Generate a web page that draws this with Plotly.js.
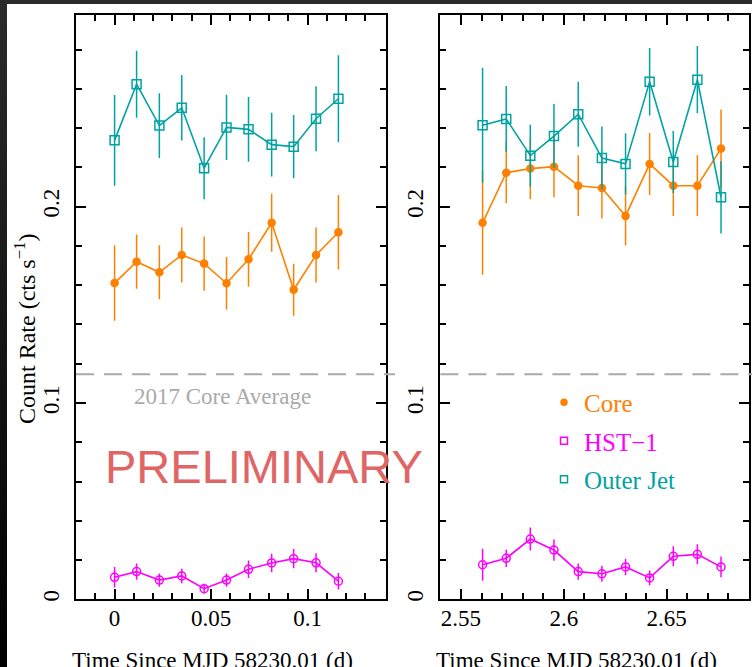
<!DOCTYPE html>
<html>
<head>
<meta charset="utf-8">
<script src="https://cdn.plot.ly/plotly-3.0.1.min.js"></script>
<style>
  html, body { margin: 0; padding: 0; background: #ffffff; }
  #chart { position: absolute; left: 0; top: 0; width: 752px; height: 667px; }
  #bandL { position: absolute; left: 0; top: 0; width: 7px; height: 667px; background: linear-gradient(#2b2b2b, #000000); z-index: 5; }
  #bandT { position: absolute; left: 0; top: 0; width: 752px; height: 4px; background: #2b2b2b; z-index: 5; }
</style>
</head>
<body>
<div id="chart"></div>
<div id="bandL"></div>
<div id="bandT"></div>
<script>
// ---- Data ----
// Left panel (first block of observations)
const time1 = [0, 0.0114, 0.0232, 0.0348, 0.0464, 0.0580, 0.0694, 0.0814, 0.0928, 0.1044, 0.1160];
const core1 = [0.1611, 0.1720, 0.1666, 0.1754, 0.1710, 0.1610, 0.1732, 0.1918, 0.1577, 0.1754, 0.1870];
const core1Err = [0.0192, 0.0138, 0.0137, 0.0140, 0.0138, 0.0134, 0.0139, 0.0148, 0.0132, 0.0140, 0.0190];
const hst1 = [0.0112, 0.0141, 0.0098, 0.0119, 0.0054, 0.0098, 0.0153, 0.0185, 0.0207, 0.0186, 0.0092];
const hst1Err = [0.0052, 0.0042, 0.0034, 0.0037, 0.0025, 0.0034, 0.0045, 0.0047, 0.0049, 0.0048, 0.0042];
const jet1 = [0.2338, 0.2624, 0.2413, 0.2504, 0.2196, 0.2404, 0.2394, 0.2316, 0.2306, 0.2448, 0.2550];
const jet1Err = [0.0231, 0.0171, 0.0165, 0.0167, 0.0158, 0.0166, 0.0165, 0.0162, 0.0161, 0.0166, 0.0222];

// Right panel (second block of observations)
const time2 = [2.5605, 2.5720, 2.5837, 2.5952, 2.6070, 2.6185, 2.6300, 2.6417, 2.6532, 2.6649, 2.6764];
const core2 = [0.1918, 0.2173, 0.2194, 0.2204, 0.2107, 0.2095, 0.1953, 0.2218, 0.2107, 0.2107, 0.2296];
const core2Err = [0.0265, 0.0156, 0.0156, 0.0156, 0.0155, 0.0155, 0.0151, 0.0158, 0.0155, 0.0155, 0.0199];
const hst2 = [0.0176, 0.0209, 0.0307, 0.0251, 0.0141, 0.0130, 0.0165, 0.0109, 0.0219, 0.0229, 0.0165];
const hst2Err = [0.0081, 0.0044, 0.0059, 0.0054, 0.0042, 0.0041, 0.0042, 0.0038, 0.0051, 0.0051, 0.0053];
const jet2 = [0.2415, 0.2447, 0.2260, 0.2360, 0.2471, 0.2248, 0.2218, 0.2637, 0.2228, 0.2647, 0.2048];
const jet2Err = [0.0293, 0.0168, 0.0158, 0.0163, 0.0166, 0.0160, 0.0156, 0.0172, 0.0158, 0.0171, 0.0184];

const coreAverage2017 = 0.1146;

const seriesNames = ['Core', 'HST\u22121', 'Outer Jet'];
const yTickVals = [0, 0.1, 0.2];
const yTickText = ['0', '0.1', '0.2'];
const x1TickVals = [0, 0.05, 0.1];
const x1TickText = ['0', '0.05', '0.1'];
const x2TickVals = [2.55, 2.6, 2.65];
const x2TickText = ['2.55', '2.6', '2.65'];

// ---- Styles ----
const ORANGE = '#ff8000';
const MAGENTA = '#ff00ff';
const TEAL = '#00a3a3';
const SERIF = 'Liberation Serif, Times New Roman, serif';

function series(x, y, err, color, symbol, size, xa, ya) {
  return {
    type: 'scatter', mode: 'lines+markers', x: x, y: y,
    xaxis: xa, yaxis: ya, showlegend: false, hoverinfo: 'skip',
    line: { color: color, width: 1.6 },
    marker: { color: color, symbol: symbol, size: size, line: { color: color, width: 1.5 } },
    error_y: { type: 'data', array: err, visible: true, color: color, thickness: 1.5, width: 0 }
  };
}

function legendEntry(name, color, symbol, size, group) {
  return {
    type: 'scatter', mode: 'markers', x: [null], y: [null], xaxis: 'x2', yaxis: 'y2',
    name: '<span style="color:' + color + '">' + name + '</span>', legendgroup: group,
    marker: { color: color, symbol: symbol, size: size, line: { color: color, width: 1.5 } }
  };
}

const traces = [
  series(time1, core1, core1Err, ORANGE, 'circle', 7, 'x', 'y'),
  series(time1, hst1, hst1Err, MAGENTA, 'circle-open', 8, 'x', 'y'),
  series(time1, jet1, jet1Err, TEAL, 'square-open', 9, 'x', 'y'),
  series(time2, core2, core2Err, ORANGE, 'circle', 7, 'x2', 'y2'),
  series(time2, hst2, hst2Err, MAGENTA, 'circle-open', 8, 'x2', 'y2'),
  series(time2, jet2, jet2Err, TEAL, 'square-open', 9, 'x2', 'y2'),
  legendEntry(seriesNames[0], ORANGE, 'circle', 6, 'g1'),
  legendEntry(seriesNames[1], MAGENTA, 'square-open', 7, 'g2'),
  legendEntry(seriesNames[2], TEAL, 'square-open', 7, 'g3')
];

const W = 752, H = 667;
const yDomain = [(H - 599.3) / H, (H - 15.3) / H];

function xAxis(domain, range, tv, tt) {
  return {
    domain: domain, range: range,
    showline: true, linecolor: '#000', linewidth: 2, mirror: 'allticks',
    ticks: 'inside', ticklen: 10, tickwidth: 2, tickcolor: '#000',
    tickvals: tv, ticktext: tt, showgrid: false, zeroline: false,
    tickfont: { family: SERIF, size: 23, color: '#000' },
    ticklabelstandoff: -3,
    minor: { dtick: 0.01, ticks: 'inside', ticklen: 6, tickwidth: 2, tickcolor: '#000', showgrid: false }
  };
}
function yAxis(anchor) {
  return {
    domain: yDomain, range: [0, 0.2975], anchor: anchor,
    showline: true, linecolor: '#000', linewidth: 2, mirror: 'allticks',
    ticks: 'inside', ticklen: 10, tickwidth: 2, tickcolor: '#000',
    tickvals: yTickVals, ticktext: yTickText, tickangle: -90,
    showgrid: false, zeroline: false,
    tickfont: { family: SERIF, size: 23, color: '#000' },
    ticklabelstandoff: 6,
    minor: { dtick: 0.02, ticks: 'inside', ticklen: 6, tickwidth: 2, tickcolor: '#000', showgrid: false }
  };
}

const xa1 = xAxis([76 / W, 385.7 / W], [-0.02, 0.1405], x1TickVals, x1TickText);
xa1.anchor = 'y';
const xa2 = xAxis([440.4 / W, 749 / W], [2.54, 2.69], x2TickVals, x2TickText);
xa2.anchor = 'y2';

const layout = {
  width: W, height: H,
  margin: { l: 0, r: 0, t: 0, b: 0 },
  paper_bgcolor: '#ffffff', plot_bgcolor: '#ffffff',
  font: { family: SERIF, color: '#000' },
  showlegend: true,
  legend: {
    x: 544 / W, y: (H - 379.5) / H, xanchor: 'left', yanchor: 'top',
    bgcolor: 'rgba(0,0,0,0)', borderwidth: 0,
    font: { family: SERIF, size: 25 },
    traceorder: 'grouped', tracegroupgap: 3
  },
  xaxis: xa1, yaxis: yAxis('x'),
  xaxis2: xa2, yaxis2: yAxis('x2'),
  shapes: [
    { type: 'line', xref: 'x domain', yref: 'y', x0: 0, x1: 1.03, y0: coreAverage2017, y1: coreAverage2017,
      line: { color: '#aaaaaa', width: 2, dash: '18px,10px' } },
    { type: 'line', xref: 'x2 domain', yref: 'y2', x0: 0, x1: 1.01, y0: coreAverage2017, y1: coreAverage2017,
      line: { color: '#aaaaaa', width: 2, dash: '18px,10px' } }
  ],
  annotations: [
    { text: '2017 Core Average', xref: 'x', yref: 'y', x: 0.0561, y: 0.1033,
      showarrow: false, font: { family: SERIF, size: 23, color: '#aaaaaa' } },
    { text: 'PRELIMINARY', xref: 'paper', yref: 'paper', x: 263.5 / W, y: (H - 467) / H,
      xanchor: 'center', yanchor: 'middle', showarrow: false,
      font: { family: 'Liberation Sans, Arial, sans-serif', size: 47, color: '#e06666' } },
    { text: 'Count Rate (cts s<sup>\u22121</sup>)', xref: 'paper', yref: 'paper', x: 25 / W, y: (H - 329) / H,
      xanchor: 'center', yanchor: 'middle', textangle: -90, showarrow: false,
      font: { family: SERIF, size: 24, color: '#000' } },
    { text: 'Time Since MJD 58230.01 (d)', xref: 'paper', yref: 'paper', x: 212.5 / W, y: (H - 646) / H,
      xanchor: 'center', yanchor: 'top', showarrow: false,
      font: { family: SERIF, size: 23, color: '#000' } },
    { text: 'Time Since MJD 58230.01 (d)', xref: 'paper', yref: 'paper', x: 576 / W, y: (H - 646) / H,
      xanchor: 'center', yanchor: 'top', showarrow: false,
      font: { family: SERIF, size: 23, color: '#000' } }
  ]
};

Plotly.newPlot('chart', traces, layout, { displayModeBar: false, staticPlot: true });
</script>
</body>
</html>
